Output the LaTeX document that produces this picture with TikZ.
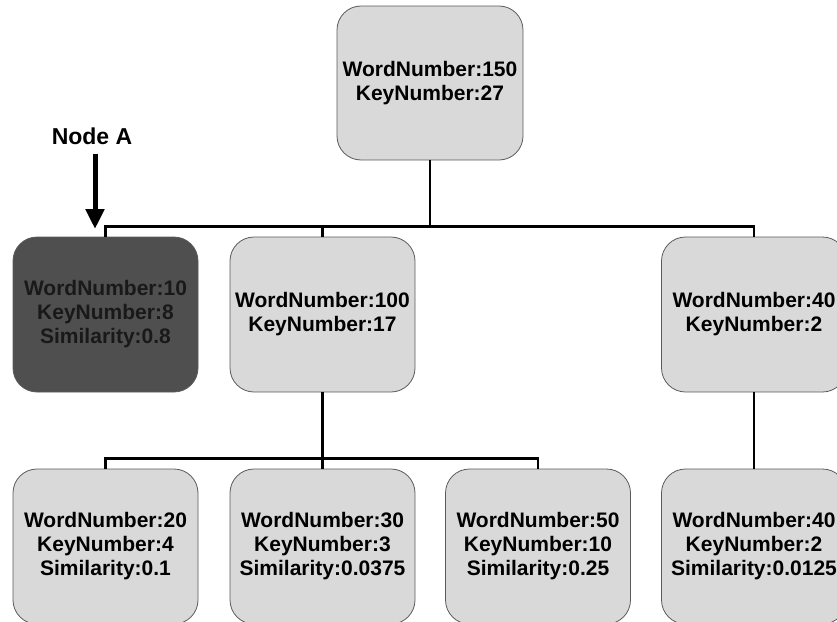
\documentclass[tikz,border=0pt]{standalone}
\usepackage{fontspec}
\setmainfont{Liberation Sans}
\usetikzlibrary{arrows.meta}

\definecolor{boxFill}{HTML}{D9D9D9}
\definecolor{boxLine}{HTML}{5A5A5A}
\definecolor{darkFill}{HTML}{4F4F4F}

\def \boxW {185pt}
\def \boxH {155pt}

\tikzset{
  tbox/.style={draw=boxLine, line width=0.8pt, fill=boxFill, rounded corners=24pt,
    minimum width=\boxW, minimum height=\boxH, align=center, inner sep=0pt,
    font=\bfseries\fontsize{21}{24}\selectfont},
  darkbox/.style={tbox, fill=darkFill, text=black!90},
  link/.style={line width=2.2pt, black}
}

\begin{document}
\begin{tikzpicture}[x=1pt, y=-1pt]
         \useasboundingbox (0,0) rectangle (837,621);
         % root
         \node[tbox, minimum width=186pt, minimum height=154pt] (root) at (430,83) {WordNumber:150\\KeyNumber:27};
         % second level
         \node[darkbox] (nodeA) at (105.5,314.5) {WordNumber:10\\KeyNumber:8\\Similarity:0.8};
         \node[tbox] (n100) at (322.5,314.5) {WordNumber:100\\KeyNumber:17};
         \node[tbox] (n40) at (754,314.5) {WordNumber:40\\KeyNumber:2};
         % third level
         \node[tbox] (n20) at (105.5,546.5) {WordNumber:20\\KeyNumber:4\\Similarity:0.1};
         \node[tbox] (n30) at (322.5,546.5) {WordNumber:30\\KeyNumber:3\\Similarity:0.0375};
         \node[tbox] (n50) at (538,546.5) {WordNumber:50\\KeyNumber:10\\Similarity:0.25};
         \node[tbox] (n40b) at (754,546.5) {WordNumber:40\\KeyNumber:2\\Similarity:0.0125};

         % links
         \draw[link] (root.south) -- ++(0,66) coordinate (busA);
         \draw[link] (busA) -| (nodeA.north);
         \draw[link] (busA) -| (n100.north);
         \draw[link] (busA) -| (n40.north);
         \draw[link] (n100.south) -- ++(0,66) coordinate (busB);
         \draw[link] (busB) -| (n20.north);
         \draw[link] (busB) -| (n30.north);
         \draw[link] (busB) -| (n50.north);
         \draw[link] (n40.south) -- (n40b.north);

         % label for node A
         \node[font=\bfseries\fontsize{23}{26}\selectfont, inner sep=1pt] (lblA) at (92,136) {Node A};
         \coordinate (tipA) at (95,229);
         \draw[line width=5pt, -{Triangle[length=20pt, width=18pt]}] (tipA |- lblA.south) ++(0,8) -- (tipA);
      \end{tikzpicture}
\end{document}
